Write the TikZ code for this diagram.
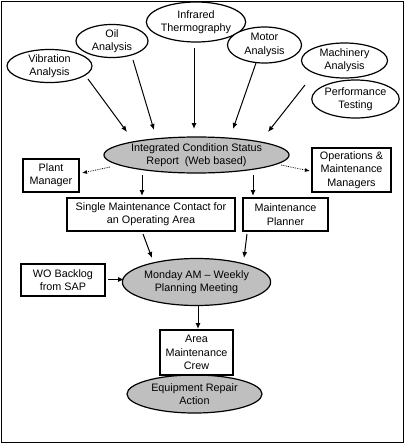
\documentclass[tikz,border=0pt]{standalone}
\usepackage{fontspec}
\setmainfont{Liberation Sans}
\usetikzlibrary{shapes.geometric,arrows.meta}
\begin{document}
\begin{tikzpicture}[x=1pt,y=-1pt,
  every node/.style={font=\fontsize{10.8}{13.3}\selectfont, align=center, inner sep=0pt},
  ell/.style={draw, ellipse, line width=1.2pt, fill=white},
  gell/.style={draw, ellipse, line width=1.2pt, fill=gray!50},
  bx/.style={draw, rectangle, line width=1.2pt, fill=white},
  arr/.style={-{Latex[length=6pt,width=5pt]}, line width=1pt},
  darr/.style={-{Latex[length=5pt,width=4pt]}, line width=0.8pt, densely dotted}]
\useasboundingbox (0,0) rectangle (405,445);
\draw[line width=1.6pt] (1.5,1.5) rectangle (403.5,442.5);
% source ellipses
\node[ell, minimum width=85, minimum height=29] (vib) at (49.5,66) {Vibration\\Analysis};
\node[ell, minimum width=72, minimum height=32] (oil) at (112,41) {Oil\\Analysis};
\node[ell, minimum width=86, minimum height=40] (ir) at (196,22) {Infrared\\Thermography};
\node[ell, minimum width=74, minimum height=36] (mot) at (264.5,45) {Motor\\Analysis};
\node[ell, minimum width=86, minimum height=35] (mach) at (344.5,60.5) {Machinery\\Analysis};
\node[ell, minimum width=85, minimum height=38] (perf) at (355.5,99) {Performance\\Testing};
% central report
\node[gell, minimum width=177, minimum height=36] (icsr) at (196.5,155) {Integrated Condition Status\\Report\ \ (Web based)};
\node[bx, minimum width=56, minimum height=33] (pm) at (51,175.5) {Plant\\Manager};
\node[bx, minimum width=79, minimum height=44] (omm) at (351.5,170) {Operations \&\\Maintenance\\Managers};
\node[bx, minimum width=168, minimum height=33] (smc) at (151,214.5) {Single Maintenance Contact for\\an Operating Area};
\node[bx, minimum width=85, minimum height=33] (mp) at (285.5,214.5) {Maintenance\\Planner};
\node[gell, minimum width=141, minimum height=47] (mon) at (196.5,282) {Monday AM – Weekly\\Planning Meeting};
\node[bx, minimum width=84, minimum height=32] (wo) at (63,280) {WO Backlog\\from SAP};
\node[gell, minimum width=135, minimum height=38] (era) at (194.5,394) {Equipment Repair\\Action};
\node[bx, minimum width=73, minimum height=45] (amc) at (196.5,352.5) {Area\\Maintenance\\Crew};
% arrows from sources
\coordinate (a1s) at (88,79);   \coordinate (a1e) at (127,132);
\coordinate (a2s) at (133,60);  \coordinate (a2e) at (154,130);
\coordinate (a3s) at (194,48);  \coordinate (a3e) at (194,129);
\coordinate (a4s) at (256,63);  \coordinate (a4e) at (233,129);
\coordinate (a5s) at (305,85);  \coordinate (a5e) at (268,132);
\draw[arr] (a1s) -- (a1e);
\draw[arr] (a2s) -- (a2e);
\draw[arr] (a3s) -- (a3e);
\draw[arr] (a4s) -- (a4e);
\draw[arr] (a5s) -- (a5e);
% dotted arrows
\coordinate (d1s) at (110,167); \coordinate (d1e) at (82,173);
\coordinate (d2s) at (281,165); \coordinate (d2e) at (310,171);
\draw[darr] (d1s) -- (d1e);
\draw[darr] (d2s) -- (d2e);
% down arrows
\coordinate (b1s) at (142,175); \coordinate (b1e) at (142,196);
\coordinate (b2s) at (253,175); \coordinate (b2e) at (253,196);
\draw[arr] (b1s) -- (b1e);
\draw[arr] (b2s) -- (b2e);
\coordinate (c1s) at (143,234); \coordinate (c1e) at (152,258);
\coordinate (c2s) at (247,234); \coordinate (c2e) at (244,258);
\draw[arr] (c1s) -- (c1e);
\draw[arr] (c2s) -- (c2e);
\coordinate (w1s) at (108,279.5); \coordinate (w1e) at (124,279.5);
\draw[arr] (w1s) -- (w1e);
\coordinate (m1s) at (198,306); \coordinate (m1e) at (198,329);
\draw[arr] (m1s) -- (m1e);
\end{tikzpicture}
\end{document}
